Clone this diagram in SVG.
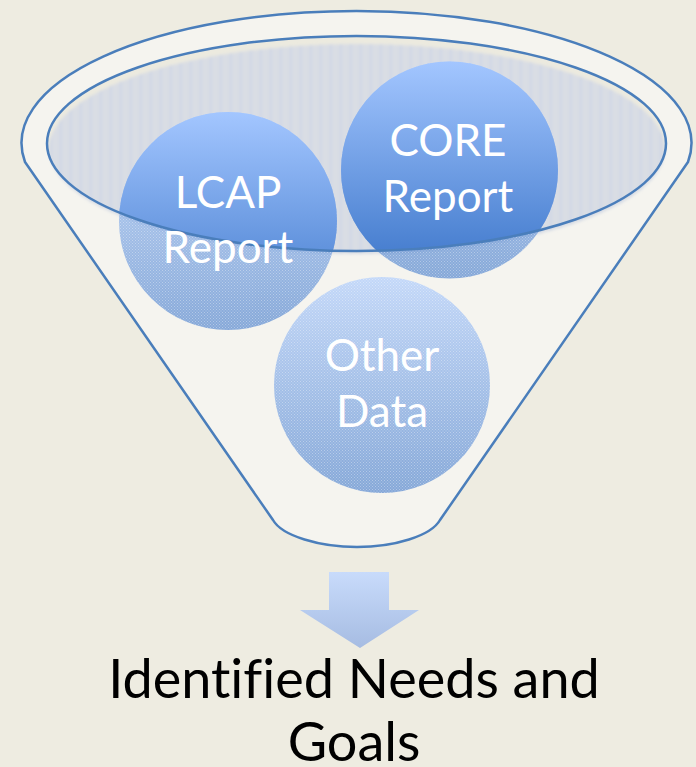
<svg xmlns="http://www.w3.org/2000/svg" width="696" height="767" viewBox="0 0 696 767">
  <style>
    .rim { fill: none; stroke: #4A7EBB; stroke-width: 2.5; }
    .label { font-family: Lato, "Open Sans", sans-serif; font-size: 44px; fill: #FFFFFF; text-anchor: middle; font-variant-ligatures: none; }
    .caption { font-family: Lato, "Open Sans", sans-serif; font-size: 54px; fill: #000000; text-anchor: middle; font-variant-ligatures: none; }
  </style>
  <defs>
    <linearGradient id="ballFill" x1="0" y1="0" x2="0" y2="1">
      <stop offset="0" stop-color="#A3C6FF"/>
      <stop offset="1" stop-color="#3B75C9"/>
    </linearGradient>
    <linearGradient id="arrowFill" x1="0" y1="0" x2="0" y2="1">
      <stop offset="0" stop-color="#C8DBFB"/>
      <stop offset="1" stop-color="#A6BCE2"/>
    </linearGradient>
    <!-- fine dither over the parts seen through the funnel wall -->
    <pattern id="dither" width="3" height="3" patternUnits="userSpaceOnUse">
      <rect x="0" y="0" width="1" height="1" fill="#FFFFFF" fill-opacity="0.35"/>
      <rect x="1.5" y="1.5" width="1" height="1" fill="#FFFFFF" fill-opacity="0.35"/>
    </pattern>
    <!-- faint vertical striping on the funnel opening -->
    <pattern id="stripes" width="10" height="10" patternUnits="userSpaceOnUse">
      <rect x="0" y="0" width="1.5" height="10" fill="#C3CFE6" fill-opacity="0.7"/>
    </pattern>
    <filter id="soft" x="-5%" y="-5%" width="110%" height="110%">
      <feGaussianBlur stdDeviation="1.5"/>
    </filter>
    <clipPath id="mouth">
      <ellipse cx="356.5" cy="143.5" rx="309.5" ry="107.5"/>
    </clipPath>
  </defs>

  <!-- page -->
  <rect width="696" height="767" fill="#EEECE1"/>

  <!-- funnel body -->
  <g id="funnel">
    <path d="M25,162 A335,132 0 1 1 688,162 L440,520 C431,536 394,547 357,547 C320,547 282,536 273,520 Z"
          fill="#F5F4EF" stroke="#4A7EBB" stroke-width="2.5" stroke-linejoin="round"/>
    <ellipse cx="356.5" cy="143.5" rx="309.5" ry="107.5" fill="#ECEADF"/>
    <g filter="url(#soft)">
      <ellipse cx="357" cy="149" rx="308" ry="105" fill="#D9DDE4"/>
      <ellipse cx="357" cy="149" rx="308" ry="105" fill="url(#stripes)"/>
    </g>
  </g>

  <!-- balls, seen through the funnel wall -->
  <g opacity="0.6">
    <circle cx="228" cy="221" r="109" fill="url(#ballFill)"/>
    <circle cx="449.5" cy="170" r="108.5" fill="url(#ballFill)"/>
    <circle cx="382" cy="385" r="108" fill="url(#ballFill)"/>
  </g>
  <g fill="url(#dither)">
    <circle cx="228" cy="221" r="109"/>
    <circle cx="449.5" cy="170" r="108.5"/>
    <circle cx="382" cy="385" r="108"/>
  </g>

  <!-- parts of the balls inside the open mouth -->
  <g clip-path="url(#mouth)">
    <circle cx="228" cy="221" r="109" fill="url(#ballFill)"/>
    <circle cx="449.5" cy="170" r="108.5" fill="url(#ballFill)"/>
  </g>

  <!-- rim of the mouth -->
  <ellipse class="rim" cx="356.5" cy="143.5" rx="309.5" ry="107.5"/>

  <g id="lcap">
    <text class="label" x="228" y="208">LCAP</text>
    <text class="label" x="228" y="263">Report</text>
  </g>
  <g id="core">
    <text class="label" x="448" y="156">CORE</text>
    <text class="label" x="448" y="212">Report</text>
  </g>
  <g id="other">
    <text class="label" x="382" y="371">Other</text>
    <text class="label" x="382" y="427">Data</text>
  </g>

  <g id="connectors">
    <polygon points="329,572 389,572 389,610 419,610 360,648 300,610 329,610" fill="url(#arrowFill)"/>
  </g>

  <g id="result">
    <text class="caption" x="354" y="698">Identified Needs and</text>
    <text class="caption" x="354" y="761">Goals</text>
  </g>
</svg>
